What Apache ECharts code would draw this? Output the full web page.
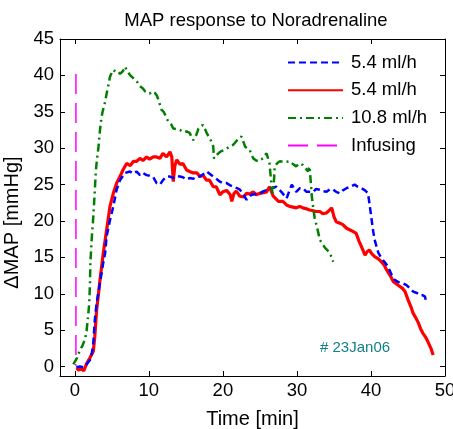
<!DOCTYPE html>
<html>
<head>
<meta charset="utf-8">
<script src="https://cdn.jsdelivr.net/npm/echarts@6/dist/echarts.min.js"></script>
<style>
html,body{margin:0;padding:0;background:#fff;}
#chart{width:453px;height:429px;}
</style>
</head>
<body>
<div id="chart"></div>
<script>
var titleText = 'MAP response to Noradrenaline';
var xName = 'Time [min]';
var yName = '\u0394MAP [mmHg]';
var note = '# 23Jan06';
var seriesNames = ['5.4 ml/h', '5.4 ml/h', '10.8 ml/h', 'Infusing'];
var xTicks = [0, 10, 20, 30, 40, 50];
var yTicks = [0, 5, 10, 15, 20, 25, 30, 35, 40, 45];

var blueData = [[0.2,-0.1],[0.7,0],[1.2,-0.1],[1.6,0.3],[2.05,0.9],[2.3,1.8],[2.5,3.2],[2.7,6.4],[2.95,8.7],[3.4,11.5],[3.8,14.0],[4.1,15.6],[4.3,17.9],[4.75,20.1],[5.2,22],[5.65,24.3],[6.1,25.6],[6.5,26.2],[6.8,26.6],[7.0,26.8],[7.45,26.8],[7.9,26.5],[8.35,26.8],[8.8,26.3],[9.2,26.6],[9.7,26.3],[10.1,26.2],[10.6,26.0],[11.05,25.2],[11.5,25.0],[11.9,25.6],[12.4,26.1],[12.85,26.1],[13.3,25.9],[13.7,26.2],[14.2,26.1],[14.6,26.0],[15.1,25.7],[15.5,25.9],[16.0,25.8],[16.5,26.1],[16.9,26.1],[17.3,26.4],[17.8,26.8],[18.2,26.5],[18.7,26.1],[19.1,25.8],[19.6,25.4],[20.0,25.2],[20.5,25.2],[21.0,24.9],[21.4,24.7],[21.9,24.5],[22.3,24.3],[22.8,23.6],[23.2,22.9],[23.5,23.3],[23.9,23.6],[24.4,23.7],[25.0,23.8],[25.5,24.1],[26.1,24.3],[26.6,24.5],[27.2,24.7],[27.5,24.4],[27.9,24.0],[28.3,23.5],[28.6,23.1],[29.0,24.2],[29.3,25.0],[29.6,24.5],[29.9,24.0],[30.4,24.5],[30.8,24.5],[31.3,24.0],[31.7,24.0],[32.2,24.0],[32.6,24.4],[33.1,24.3],[33.5,24.1],[34.0,24.0],[34.5,24.4],[34.9,24.3],[35.3,24.0],[35.8,23.8],[36.2,24.2],[36.7,24.5],[37.2,24.7],[37.8,25.0],[38.2,24.7],[38.7,24.5],[39.2,24.2],[39.6,23.8],[39.8,22.4],[40.1,20.1],[40.3,18.6],[40.5,17.4],[41.0,15.6],[41.4,14.9],[41.9,14.3],[42.3,13.7],[42.8,12.6],[43.2,11.9],[43.9,11.5],[44.4,11.4],[44.8,11.2],[45.2,10.8],[45.7,10.3],[46.2,10.1],[46.6,9.8],[47.0,9.8],[47.3,9.6],[47.5,8.7]];

var redData = [[0.25,-0.2],[0.5,-0.5],[0.9,-0.3],[1.2,-0.6],[1.6,0.4],[2.05,1.2],[2.5,2.1],[2.7,4.1],[2.95,7.8],[3.2,10],[3.4,11.9],[3.85,15.6],[4.3,18.8],[4.75,22],[5.2,23.8],[5.65,25.2],[6.1,26.1],[6.5,27.0],[7.0,27.9],[7.5,27.6],[7.9,28.2],[8.35,28.2],[8.8,28.6],[9.2,28.3],[9.7,28.8],[10.1,28.5],[10.6,28.8],[11.05,28.8],[11.5,28.6],[11.9,29.3],[12.4,28.8],[12.85,29.5],[13.1,28.8],[13.3,25.4],[13.5,27.5],[13.75,28.4],[14.2,27.8],[14.6,27.9],[15.1,27.0],[15.5,26.8],[16.0,26.6],[16.5,26.6],[16.9,26.1],[17.3,26.3],[17.8,25.6],[18.2,25.6],[18.7,24.7],[19.1,24.7],[19.6,23.6],[20.0,24.0],[20.5,24.2],[21.0,23.6],[21.2,22.7],[21.5,23.8],[21.8,24.1],[22.3,23.4],[22.8,23.3],[23.2,23.8],[23.6,23.7],[24.1,24.0],[24.5,23.6],[25.0,23.8],[25.5,23.9],[25.9,24.0],[26.3,24.7],[26.8,23.4],[27.2,23.0],[27.5,22.7],[28.1,22.7],[28.6,22.2],[29.0,22.0],[29.5,21.9],[29.9,21.8],[30.4,22.0],[30.8,21.8],[31.2,21.7],[31.7,21.5],[32.2,21.4],[32.6,21.3],[33.1,21.3],[33.5,21.0],[34.0,21.1],[34.4,21.5],[34.7,21.8],[35.0,20.6],[35.3,19.9],[35.8,19.7],[36.2,19.5],[36.7,19.0],[37.1,18.8],[37.5,18.6],[38.0,18.3],[38.4,17.2],[38.7,16.5],[39.2,15.3],[39.5,15.8],[39.8,16.0],[40.1,15.5],[40.5,15.1],[41.0,14.8],[41.4,14.4],[41.8,13.9],[42.1,13.3],[42.6,12.5],[43.0,11.7],[43.5,11.3],[43.9,11.0],[44.3,10.7],[44.6,10.3],[45.0,9.2],[45.4,8.2],[45.7,7.3],[46.0,6.8],[46.4,6.0],[46.7,5.2],[47.0,4.6],[47.4,4.0],[47.7,3.4],[48.1,2.5],[48.4,1.6]];

var greenData = [[-0.2,0.3],[0.3,1.2],[0.7,2.3],[1.0,2.8],[1.15,3.0],[1.4,3.8],[1.6,5],[1.8,7],[1.95,8.7],[2.05,11.5],[2.1,14.2],[2.3,17.8],[2.5,20.6],[2.7,24.2],[2.85,27],[3.0,28.5],[3.2,30.2],[3.4,32.5],[3.6,34.2],[3.75,35],[3.9,35.6],[4.1,36.4],[4.3,37.5],[4.5,38.5],[4.75,39.8],[5.0,40.4],[5.2,40.75],[5.5,40.5],[5.9,40.5],[6.1,40.2],[6.3,40.1],[6.5,40.6],[6.8,41.2],[7.0,40.7],[7.2,40.5],[7.5,40.0],[7.7,39.8],[8.1,39.4],[8.5,39.0],[8.8,38.5],[9.2,38.2],[9.5,37.8],[10.1,37.5],[10.5,37.8],[10.8,37.6],[11.1,37.2],[11.3,36.6],[11.7,35.3],[12.0,35.0],[12.2,34.6],[12.6,33.7],[13.0,33.3],[13.3,32.7],[13.8,32.6],[14.2,32.5],[14.7,32.2],[15.1,32.3],[15.5,32.1],[16.0,31.1],[16.4,31.8],[16.7,32.7],[17.0,32.9],[17.3,33.2],[17.6,32.6],[17.8,32.1],[18.2,31.4],[18.5,30.8],[18.7,30.2],[18.8,28.6],[19.1,29.0],[19.4,29.3],[19.8,29.6],[20.3,29.8],[20.9,30.2],[21.3,30.4],[21.6,30.7],[22.0,31.2],[22.5,31.6],[22.8,30.8],[23.0,30.2],[23.6,29.8],[24.1,28.6],[24.5,28.3],[24.8,28.2],[25.1,28.4],[25.4,28.6],[25.7,29.0],[25.9,29.3],[26.1,28.6],[26.3,27.9],[26.5,25.6],[26.7,23.8],[26.9,25.5],[27.0,27.5],[27.4,28.0],[27.7,28.2],[28.3,28.1],[29.0,28.2],[29.5,27.8],[29.9,27.5],[30.3,27.9],[30.8,27.7],[31.2,27.2],[31.5,26.8],[31.7,27.5],[31.9,25],[32.0,23.5],[32.2,21.8],[32.4,20.4],[32.7,19.2],[33.1,17.4],[33.4,16.9],[33.8,16.3],[34.1,16.0],[34.4,15.6],[34.7,15.0],[34.9,14.4]];

var infusingData = [[0.15,40.2],[0.15,0.1]];

var FONT = '"Liberation Sans", Arial, sans-serif';
var chart = echarts.init(document.getElementById('chart'), null, {renderer: 'canvas'});

function baseAxis(extra) {
  return Object.assign({
    type: 'value',
    axisLine: {show: true, onZero: false, lineStyle: {color: '#000', width: 1}},
    splitLine: {show: false},
    axisLabel: {show: false}
  }, extra);
}

var option = {
  animation: false,
  backgroundColor: '#fff',
  title: {
    text: titleText,
    left: 251,
    top: 6,
    textAlign: 'center',
    textStyle: {fontFamily: FONT, fontSize: 18.5, fontWeight: 'normal', color: '#000'}
  },
  grid: {left: 60, right: 8, top: 39, bottom: 53, containLabel: false, outerBoundsMode: 'none'},
  legend: {
    orient: 'vertical',
    left: 282,
    top: 48,
    itemWidth: 55,
    itemHeight: 14,
    itemGap: 8.7,
    backgroundColor: 'transparent',
    textStyle: {fontFamily: FONT, fontSize: 18.5, lineHeight: 18, color: '#000', padding: [0, 0, 0, 3]},
    lineStyle: {width: 2},
    itemStyle: {opacity: 0},
    data: seriesNames.map(function (n, i) { return {name: n + (i === 1 ? '\u200b' : '')}; })
  },
  xAxis: [
    baseAxis({
      min: -2, max: 50, position: 'bottom',
      axisLabel: {show: true, customValues: xTicks, margin: 5, color: '#000', fontFamily: FONT, fontSize: 18.5},
      axisTick: {show: true, inside: true, length: 5, customValues: xTicks, lineStyle: {color: '#000'}},
      name: xName, nameLocation: 'middle', nameGap: 33,
      nameTextStyle: {fontFamily: FONT, fontSize: 20, color: '#000'}
    }),
    baseAxis({
      min: -2, max: 50, position: 'top',
      axisTick: {show: true, inside: true, length: 5, customValues: xTicks, lineStyle: {color: '#000'}}
    })
  ],
  yAxis: [
    baseAxis({
      min: -1.3, max: 45, position: 'left',
      axisLabel: {show: true, customValues: yTicks, margin: 6, color: '#000', fontFamily: FONT, fontSize: 18.5},
      axisTick: {show: true, inside: true, length: 5, customValues: yTicks, lineStyle: {color: '#000'}},
      name: yName, nameLocation: 'middle', nameGap: 37,
      nameTextStyle: {fontFamily: FONT, fontSize: 20, color: '#000', padding: [0, 30, 0, 0]}
    }),
    baseAxis({
      min: -1.3, max: 45, position: 'right',
      axisTick: {show: true, inside: true, length: 5, customValues: yTicks, lineStyle: {color: '#000'}}
    })
  ],
  graphic: [{
    type: 'text', left: 320, top: 340, silent: true,
    style: {text: note, font: '15px ' + FONT, fill: '#12808a'}
  }],
  series: [
    {
      name: seriesNames[0], type: 'line', data: blueData, showSymbol: false, symbol: 'none',
      color: '#0000ff', lineStyle: {color: '#0000ff', width: 2.5, type: [7, 4]}, z: 3
    },
    {
      name: seriesNames[1] + '\u200b', type: 'line', data: redData, showSymbol: false, symbol: 'none',
      color: '#ff0000', lineStyle: {color: '#ff0000', width: 3.2, type: 'solid'}, z: 2
    },
    {
      name: seriesNames[2], type: 'line', data: greenData, showSymbol: false, symbol: 'none',
      color: '#007f00', lineStyle: {color: '#007f00', width: 2.5, type: [8, 4, 2, 4]}, z: 4
    },
    {
      name: seriesNames[3], type: 'line', data: infusingData, showSymbol: false, symbol: 'none',
      color: '#ff00ff', lineStyle: {color: '#ff00ff', width: 1.5, type: [20, 9]}, z: 5
    }
  ]
};
chart.setOption(option);
</script>
</body>
</html>
